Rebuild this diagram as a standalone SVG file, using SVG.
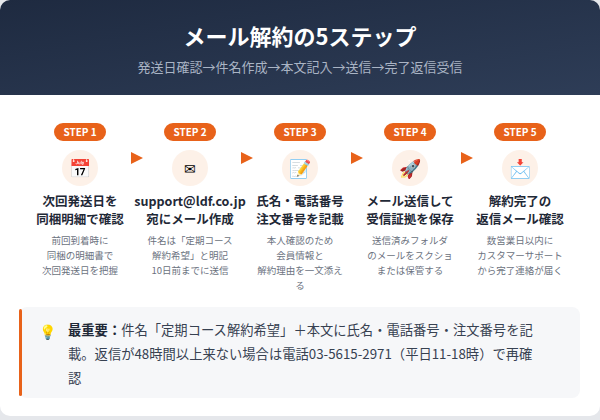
<svg xmlns="http://www.w3.org/2000/svg" width="600" height="420" viewBox="0 0 600 420">
<defs>
<linearGradient id="hd" x1="0" y1="0" x2="1" y2="1"><stop offset="0" stop-color="#1e2a40"/><stop offset="1" stop-color="#2e3d57"/></linearGradient>
<clipPath id="card"><rect x="0" y="0" width="600" height="416" rx="10"/></clipPath>
</defs>
<style>
text{font-family:"Noto Sans CJK JP","Noto Sans",sans-serif;text-anchor:middle}
.pill{fill:#e8621a}
.pt{fill:#fff;font-size:10px;font-weight:700}
.ic{fill:#fdf1e8}
.ti{fill:#1f2937;font-size:12.5px;font-weight:700}
.de{fill:#6b7280;font-size:9.5px}
.ar{fill:#e8621a}
</style>
<rect width="600" height="420" fill="#e5e7eb"/>
<g clip-path="url(#card)">
<rect width="600" height="416" fill="#fff"/>
<rect width="600" height="95" fill="url(#hd)"/>
</g>
<text x="300" y="45" fill="#fff" font-size="22" font-weight="700">メール解約の5ステップ</text>
<text x="300" y="72" fill="#aab4c4" font-size="13">発送日確認→件名作成→本文記入→送信→完了返信受信</text>
<g id="connectors">
<path class="ar" d="M131 152 L143 158 L131 164Z"/>
<path class="ar" d="M241 152 L253 158 L241 164Z"/>
<path class="ar" d="M351 152 L363 158 L351 164Z"/>
<path class="ar" d="M461 152 L473 158 L461 164Z"/>
</g>
<g id="step1">
<rect class="pill" x="54" y="123" width="52" height="18" rx="9"/><text class="pt" x="80" y="136">STEP 1</text>
<circle class="ic" cx="80" cy="168" r="18"/><text x="80" y="175" font-size="18">📅</text>
<text class="ti" x="80" y="206">次回発送日を</text><text class="ti" x="80" y="224">同梱明細で確認</text>
<text class="de" x="80" y="244">前回到着時に</text><text class="de" x="80" y="259">同梱の明細書で</text><text class="de" x="80" y="274">次回発送日を把握</text>
</g>
<g id="step2">
<rect class="pill" x="164" y="123" width="52" height="18" rx="9"/><text class="pt" x="190" y="136">STEP 2</text>
<circle class="ic" cx="190" cy="168" r="18"/><text x="190" y="174" font-size="14">✉</text>
<text class="ti" x="190" y="206">support@ldf.co.jp</text><text class="ti" x="190" y="224">宛にメール作成</text>
<text class="de" x="190" y="244">件名は「定期コース</text><text class="de" x="190" y="259">解約希望」と明記</text><text class="de" x="190" y="274">10日前までに送信</text>
</g>
<g id="step3">
<rect class="pill" x="274" y="123" width="52" height="18" rx="9"/><text class="pt" x="300" y="136">STEP 3</text>
<circle class="ic" cx="300" cy="168" r="18"/><text x="300" y="175" font-size="18">📝</text>
<text class="ti" x="300" y="206">氏名・電話番号</text><text class="ti" x="300" y="224">注文番号を記載</text>
<text class="de" x="300" y="244">本人確認のため</text><text class="de" x="300" y="259">会員情報と</text><text class="de" x="300" y="274">解約理由を一文添え</text><text class="de" x="300" y="289">る</text>
</g>
<g id="step4">
<rect class="pill" x="384" y="123" width="52" height="18" rx="9"/><text class="pt" x="410" y="136">STEP 4</text>
<circle class="ic" cx="410" cy="168" r="18"/><text x="410" y="175" font-size="18">🚀</text>
<text class="ti" x="410" y="206">メール送信して</text><text class="ti" x="410" y="224">受信証拠を保存</text>
<text class="de" x="410" y="244">送信済みフォルダ</text><text class="de" x="410" y="259">のメールをスクショ</text><text class="de" x="410" y="274">または保管する</text>
</g>
<g id="step5">
<rect class="pill" x="494" y="123" width="52" height="18" rx="9"/><text class="pt" x="520" y="136">STEP 5</text>
<circle class="ic" cx="520" cy="168" r="18"/><text x="520" y="175" font-size="18">📩</text>
<text class="ti" x="520" y="206">解約完了の</text><text class="ti" x="520" y="224">返信メール確認</text>
<text class="de" x="520" y="244">数営業日以内に</text><text class="de" x="520" y="259">カスタマーサポート</text><text class="de" x="520" y="274">から完了連絡が届く</text>
</g>
<g id="callout">
<rect x="19" y="307" width="561" height="91" rx="8" fill="#f6f7f9"/>
<rect x="19" y="309" width="3" height="87" rx="1.5" fill="#e8621a"/>
<text x="47" y="337" font-size="14">💡</text>
<text x="68" y="335" font-size="13.3" fill="#374151" style="text-anchor:start"><tspan font-weight="700" fill="#1f2937">最重要：</tspan>件名「定期コース解約希望」＋本文に氏名・電話番号・注文番号を記</text>
<text x="68" y="359" font-size="13.3" fill="#374151" style="text-anchor:start">載。返信が48時間以上来ない場合は電話03-5615-2971（平日11-18時）で再確</text>
<text x="68" y="383" font-size="13.3" fill="#374151" style="text-anchor:start">認</text>
</g>
</svg>
